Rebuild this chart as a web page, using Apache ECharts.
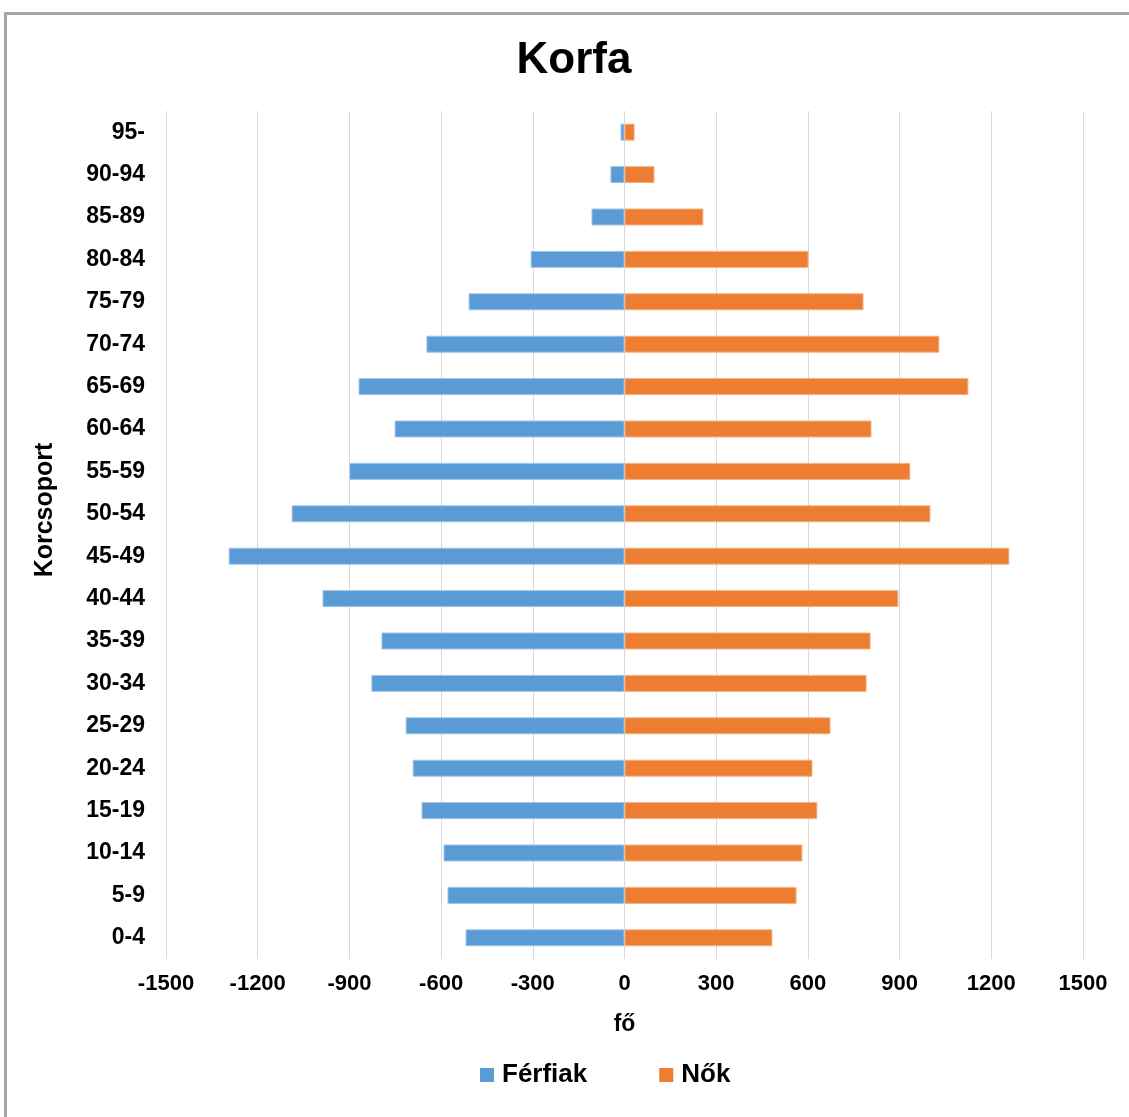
<!DOCTYPE html>
<html>
<head>
<meta charset="utf-8">
<script src="https://cdn.jsdelivr.net/npm/echarts@6/dist/echarts.min.js"></script>
<style>
  html, body { margin: 0; padding: 0; background: #fff; }
  #chart { width: 1129px; height: 1117px; }
  .frame {
    position: absolute; left: 4px; top: 12px; width: 1200px; height: 1200px;
    border-top: 3px solid #a6a6a6; border-left: 3px solid #a6a6a6;
    pointer-events: none;
  }
</style>
</head>
<body>
<div id="chart"></div>
<div class="frame"></div>
<script>
// korcsoportok alulról felfelé
const ageGroups = ['0-4', '5-9', '10-14', '15-19', '20-24', '25-29', '30-34', '35-39', '40-44', '45-49',
  '50-54', '55-59', '60-64', '65-69', '70-74', '75-79', '80-84', '85-89', '90-94', '95-']
// férfiak negatív előjellel (bal oldal)
const men = [-520, -579, -592, -664, -693, -716, -828, -795, -988, -1295,
  -1089, -900, -752, -870, -648, -510, -307, -108, -46, -13]
const women = [484, 563, 582, 631, 615, 674, 792, 805, 896, 1259,
  1001, 935, 808, 1125, 1030, 782, 602, 258, 98, 33]

const font = '"Liberation Sans", Arial, sans-serif'

const chart = echarts.init(document.getElementById('chart'), null, { renderer: 'canvas' })

chart.setOption({
  backgroundColor: '#fff',
  animation: false,
  title: {
    text: 'Korfa',
    left: 569,
    textAlign: 'center',
    top: 34,
    textStyle: { fontFamily: font, fontSize: 44, fontWeight: 'bold', color: '#000' }
  },
  legend: {
    data: ['Férfiak', 'Nők'],
    left: 475,
    top: 1057,
    icon: 'rect',
    itemWidth: 14,
    itemHeight: 14,
    itemGap: 72,
    itemStyle: { borderWidth: 0 },
    textStyle: { fontFamily: font, fontSize: 26, fontWeight: 'bold', color: '#000', padding: [0, 0, 0, 3] }
  },
  grid: { left: 166, right: 46, top: 111, bottom: 158 },
  xAxis: {
    type: 'value',
    min: -1500,
    max: 1500,
    interval: 300,
    name: 'fő',
    nameLocation: 'middle',
    nameGap: 54,
    nameTextStyle: { fontFamily: font, fontSize: 23, fontWeight: 'bold', color: '#000' },
    axisLine: { show: false },
    axisTick: { show: false },
    axisLabel: {
      margin: 14, fontFamily: font, fontSize: 22, fontWeight: 'bold', color: '#000',
      formatter: v => String(v)
    },
    splitLine: { lineStyle: { color: '#d9d9d9', width: 1 } }
  },
  yAxis: {
    type: 'category',
    data: ageGroups,
    name: 'Korcsoport',
    nameLocation: 'middle',
    nameGap: 108,
    nameTextStyle: { fontFamily: font, fontSize: 25, fontWeight: 'bold', color: '#000', padding: [0, 0, 0, 50] },
    axisLine: { show: false },
    axisTick: { show: false },
    axisLabel: { margin: 21, fontFamily: font, fontSize: 23, fontWeight: 'bold', color: '#000' },
    splitLine: { show: false }
  },
  series: [
    {
      name: 'Férfiak',
      type: 'bar',
      data: men,
      barWidth: '40%',
      barGap: '-100%',
      itemStyle: { color: '#5b9bd5', borderColor: '#9dc3e6', borderWidth: 1 }
    },
    {
      name: 'Nők',
      type: 'bar',
      data: women,
      barWidth: '40%',
      itemStyle: { color: '#ed7d31', borderColor: '#f4b183', borderWidth: 1 }
    }
  ]
})
</script>
</body>
</html>
